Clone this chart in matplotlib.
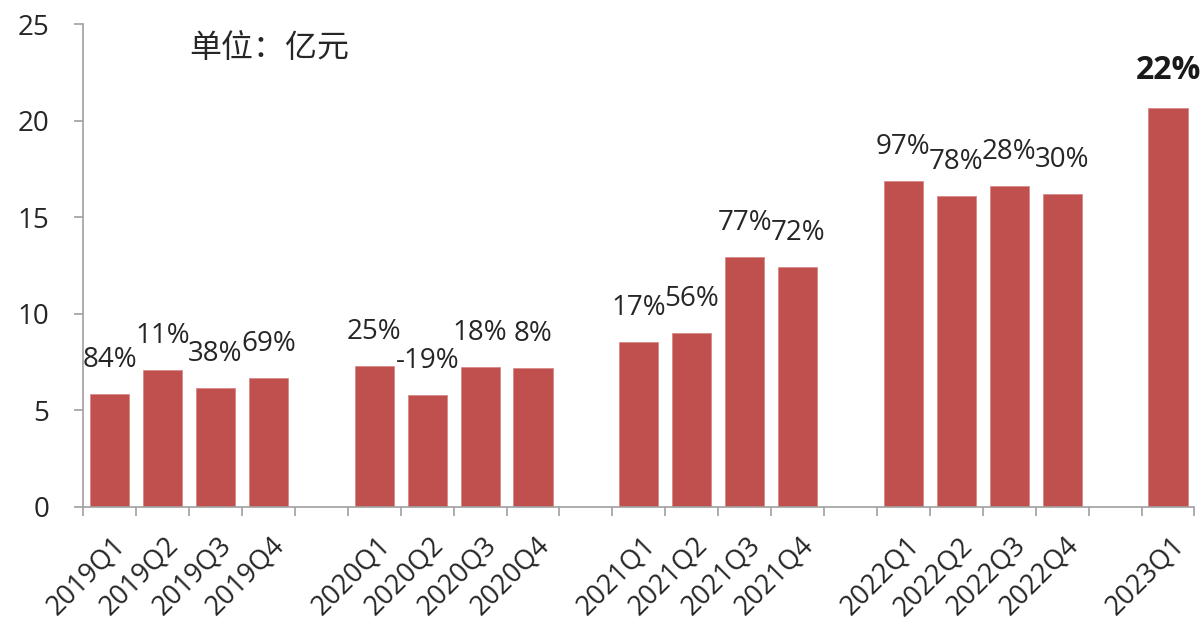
import numpy as np
import matplotlib.pyplot as plt
import matplotlib.transforms as mtransforms

# 数据
quarters = ['2019Q1', '2019Q2', '2019Q3', '2019Q4',
            '2020Q1', '2020Q2', '2020Q3', '2020Q4',
            '2021Q1', '2021Q2', '2021Q3', '2021Q4',
            '2022Q1', '2022Q2', '2022Q3', '2022Q4',
            '2023Q1']
revenue = [5.82, 7.09, 6.13, 6.65,
           7.28, 5.76, 7.24, 7.20,
           8.53, 8.98, 12.92, 12.40,
           16.85, 16.09, 16.61, 16.17,
           20.66]
yoy = ['84%', '11%', '38%', '69%',
       '25%', '-19%', '18%', '8%',
       '17%', '56%', '77%', '72%',
       '97%', '78%', '28%', '30%',
       '22%']

plt.rcParams['font.family'] = ['Open Sans', 'Noto Sans CJK SC', 'DejaVu Sans']

# 每年之间空一格
pos = []
slot = 0
for i, q in enumerate(quarters):
    if i > 0 and q[:4] != quarters[i - 1][:4]:
        slot += 1
    pos.append(slot)
    slot += 1
n_slots = slot

fig = plt.figure(figsize=(12.03, 6.22), dpi=100)
ax = fig.add_axes([0.0692, 0.1854, 0.9237, 0.776])

bar_color = '#C0504D'
ax.bar(pos, revenue, width=0.74, color=bar_color, edgecolor='#d98a8a', linewidth=0.6)

txt_color = '#262626'
for i, (x, v, s) in enumerate(zip(pos, revenue, yoy)):
    last = i == len(quarters) - 1
    ax.annotate(s, (x, v), xytext=(0, 26.5 if last else 24.5), textcoords='offset points',
                ha='center', va='center', fontsize=23 if last else 20,
                fontweight='bold' if last else 'normal', color='#1a1a1a' if last else txt_color)

ax.text(0.095, 0.95, '单位：亿元', transform=ax.transAxes, fontsize=23,
        family=['Noto Sans CJK SC', 'DejaVu Sans'], color=txt_color, va='center')

ax.set_xlim(-0.5, n_slots - 0.5)
ax.set_ylim(0, 25)
ax.set_yticks(np.arange(0, 26, 5))

axis_color = '#a0a0a0'
for side in ['top', 'right']:
    ax.spines[side].set_visible(False)
for side in ['left', 'bottom']:
    ax.spines[side].set_color(axis_color)
    ax.spines[side].set_linewidth(1.2)

ax.tick_params(axis='y', length=6.5, width=1.2, color=axis_color, pad=18,
               labelsize=20, labelcolor=txt_color)

# 分类标签在中间, 刻度线在分隔处
ax.set_xticks(pos)
ax.set_xticklabels(quarters, rotation=45, ha='right', va='center', rotation_mode='anchor')
ax.set_xticks(np.arange(-0.5, n_slots, 1), minor=True)
ax.tick_params(axis='x', which='major', length=0, pad=25, labelsize=19.5, labelcolor=txt_color)
ax.tick_params(axis='x', which='minor', length=6.5, width=1.2, color=axis_color)
offset = mtransforms.ScaledTranslation(12 / 100, 0, fig.dpi_scale_trans)
for lab in ax.get_xticklabels():
    lab.set_transform(lab.get_transform() + offset)

fig.savefig('out.png', dpi=100)
